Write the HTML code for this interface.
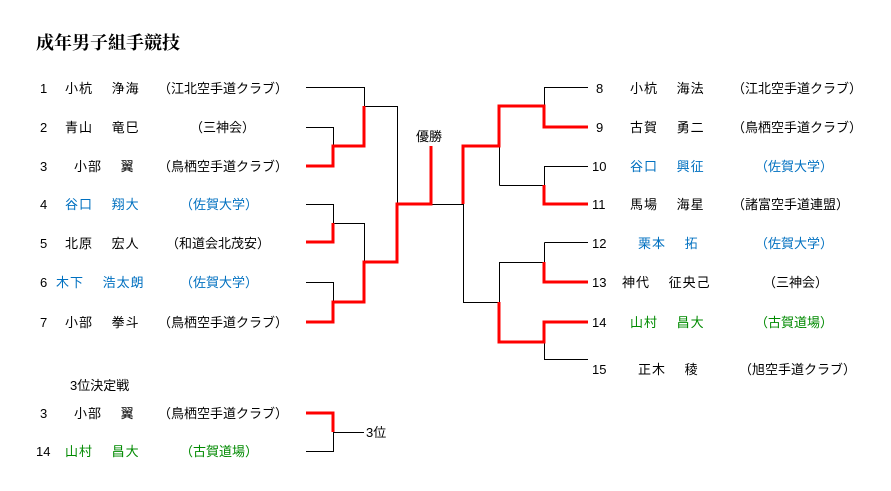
<!DOCTYPE html>
<html><head><meta charset="utf-8"><style>
body{margin:0;width:891px;height:491px;background:#fff;position:relative;overflow:hidden;font-family:"Liberation Sans","Noto Sans CJK JP",sans-serif;font-size:13px;color:#000}
.t{position:absolute;line-height:16px;white-space:pre;margin-top:1px}
.n{letter-spacing:1px}
.b{color:#0070c0}.g{color:#008a00}
svg{position:absolute;left:0;top:0}
</style></head><body>
<div class="t" style="left:36px;top:31px;font-size:18px;font-weight:bold;font-family:'Liberation Serif','Noto Serif CJK SC',serif;line-height:22px">成年男子組手競技</div>

<div class="t" style="left:40px;top:80px">1</div><div class="t n" style="left:65px;top:80px">小杭　 浄海</div><div class="t" style="left:158px;top:80px">（江北空手道クラブ）</div>
<div class="t" style="left:40px;top:119px">2</div><div class="t n" style="left:65px;top:119px">青山　 竜巳</div><div class="t" style="left:190px;top:119px">（三神会）</div>
<div class="t" style="left:40px;top:158px">3</div><div class="t n" style="left:74px;top:158px">小部　 翼</div><div class="t" style="left:158px;top:158px">（鳥栖空手道クラブ）</div>
<div class="t" style="left:40px;top:196px">4</div><div class="t n b" style="left:65px;top:196px">谷口　 翔大</div><div class="t b" style="left:180px;top:196px">（佐賀大学）</div>
<div class="t" style="left:40px;top:235px">5</div><div class="t n" style="left:65px;top:235px">北原　 宏人</div><div class="t" style="left:166px;top:235px">（和道会北茂安）</div>
<div class="t" style="left:40px;top:274px">6</div><div class="t n b" style="left:56px;top:274px">木下　 浩太朗</div><div class="t b" style="left:180px;top:274px">（佐賀大学）</div>
<div class="t" style="left:40px;top:314px">7</div><div class="t n" style="left:65px;top:314px">小部　 拳斗</div><div class="t" style="left:158px;top:314px">（鳥栖空手道クラブ）</div>

<div class="t" style="left:596px;top:80px">8</div><div class="t n" style="left:630px;top:80px">小杭　 海法</div><div class="t" style="left:732px;top:80px">（江北空手道クラブ）</div>
<div class="t" style="left:596px;top:119px">9</div><div class="t n" style="left:630px;top:119px">古賀　 勇二</div><div class="t" style="left:732px;top:119px">（鳥栖空手道クラブ）</div>
<div class="t" style="left:592px;top:158px">10</div><div class="t n b" style="left:630px;top:158px">谷口　 興征</div><div class="t b" style="left:755px;top:158px">（佐賀大学）</div>
<div class="t" style="left:592px;top:196px">11</div><div class="t n" style="left:630px;top:196px">馬場　 海星</div><div class="t" style="left:732px;top:196px">（諸富空手道連盟）</div>
<div class="t" style="left:592px;top:235px">12</div><div class="t n b" style="left:638px;top:235px">栗本　 拓</div><div class="t b" style="left:755px;top:235px">（佐賀大学）</div>
<div class="t" style="left:592px;top:274px">13</div><div class="t n" style="left:622px;top:274px">神代　 征央己</div><div class="t" style="left:763px;top:274px">（三神会）</div>
<div class="t" style="left:592px;top:314px">14</div><div class="t n g" style="left:630px;top:314px">山村　 昌大</div><div class="t g" style="left:755px;top:314px">（古賀道場）</div>
<div class="t" style="left:592px;top:361px">15</div><div class="t n" style="left:638px;top:361px">正木　 稜</div><div class="t" style="left:739px;top:361px">（旭空手道クラブ）</div>

<div class="t" style="left:416px;top:128px">優勝</div>

<div class="t" style="left:70px;top:377px">3位決定戦</div>
<div class="t" style="left:40px;top:405px">3</div><div class="t n" style="left:74px;top:405px">小部　 翼</div><div class="t" style="left:158px;top:405px">（鳥栖空手道クラブ）</div>
<div class="t" style="left:36px;top:443px">14</div><div class="t n g" style="left:65px;top:443px">山村　 昌大</div><div class="t g" style="left:180px;top:443px">（古賀道場）</div>
<div class="t" style="left:366px;top:424px">3位</div>

<svg width="891" height="491" fill="none">
<g stroke="#000" stroke-width="1">
<path d="M306 87.5H364.5V106M306 127.5H333.5V146"/>
<path d="M364.5 106.5H397.5V204"/>
<path d="M306 204.5H333.5V223M333.5 223.5H364.5V262M306 282.5H333.5V302"/>
<path d="M431 204.5H463.5V302.5H499.5V262.5H544V262M499.5 185.5H544.5V204M499.5 146V185.5"/>
<path d="M588 87.5H544.5V106M588 166.5H544.5V185M544.5 242.5H588M544.5 242.5V262M544.5 342V359.5H588"/>
<path d="M306 451.5H333.5V432M333.5 432.5H364"/>
</g>
<g stroke="#f00" stroke-width="3">
<path d="M306 166H333V146H364V106"/>
<path d="M306 242H333V223"/>
<path d="M306 322H333V302H364V262H397V204H431V146"/>
<path d="M463 204V146H499V106H544V127H588"/>
<path d="M544 185V204H588"/>
<path d="M499 302V342H544V322H588"/>
<path d="M544 262V282H588"/>
<path d="M306 413H333V432"/>
</g>
</svg>
</body></html>
